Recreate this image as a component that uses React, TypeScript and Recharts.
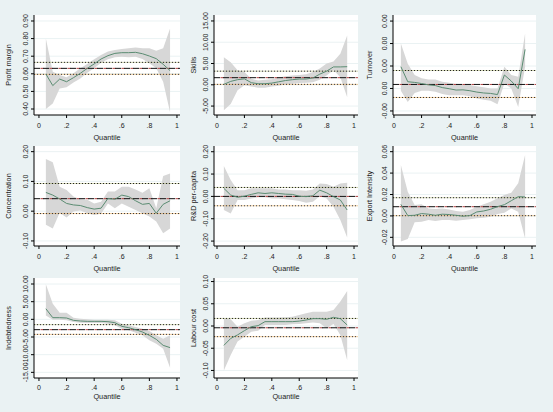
import { ComposedChart, Area, Line, XAxis, YAxis, CartesianGrid, ReferenceLine } from 'recharts';

// quantiles at which the regressions were estimated
const quantiles = [0.05, 0.1, 0.15, 0.2, 0.25, 0.3, 0.35, 0.4, 0.45, 0.5, 0.55, 0.6, 0.65, 0.7, 0.75, 0.8, 0.85, 0.9, 0.95];
const xTicks = [0, 0.2, 0.4, 0.6, 0.8, 1];

// Profit margin
const profitCoef = [0.599, 0.533, 0.57, 0.555, 0.578, 0.603, 0.631, 0.656, 0.684, 0.703, 0.716, 0.72, 0.72, 0.722, 0.714, 0.701, 0.686, 0.654, 0.618];
const profitLo = [0.4, 0.432, 0.517, 0.523, 0.55, 0.574, 0.606, 0.631, 0.663, 0.682, 0.694, 0.697, 0.694, 0.697, 0.684, 0.66, 0.631, 0.555, 0.381];
const profitHi = [0.8, 0.612, 0.593, 0.58, 0.603, 0.631, 0.656, 0.682, 0.707, 0.726, 0.735, 0.741, 0.745, 0.749, 0.745, 0.745, 0.731, 0.745, 0.858];
const profitOls = [0.631, 0.597, 0.665];
const profitTicks = [0.4, 0.5, 0.6, 0.7, 0.8, 0.9];

// Skills
const skillsCoef = [0.1, 0.8, 1.2, 1.4, 0.5, 0.25, 0.25, 0.4, 0.7, 1.0, 1.2, 1.35, 1.35, 1.6, 2.5, 3.2, 4.2, 4.2, 4.25];
const skillsLo = [-6.0, -4.5, -1.3, -0.1, -0.4, -0.7, -0.7, -0.4, -0.2, 0.1, 0.25, 0.4, 0.5, 0.6, 1.2, 2.2, 3.5, 1.8, -2.9];
const skillsHi = [6.5, 5.3, 3.4, 3.0, 1.4, 1.0, 1.2, 1.3, 1.7, 2.0, 2.2, 2.3, 2.5, 3.0, 3.8, 5.0, 5.5, 7.3, 11.6];
const skillsOls = [1.67, 0.1, 3.2];
const skillsTicks = [-5, 0, 5, 10, 15];

// Turnover
const turnCoef = [0.00097, 0.0003, 0.00027, 0.00022, 0.00016, 0.00013, 0.00004, -0.00001, -0.00007, -0.00006, -0.0001, -0.00016, -0.0002, -0.00022, -0.00027, 0.0006, 0.00033, -0.00001, 0.00174];
const turnLo = [-0.0001, -0.0006, -0.0002, -0.0001, -0.0001, -0.00015, -0.00025, -0.0003, -0.0003, -0.0003, -0.00035, -0.00045, -0.0005, -0.00055, -0.0007, 0.00022, 0.0, -0.00082, 0.00097];
const turnHi = [0.002, 0.0011, 0.0006, 0.00045, 0.0004, 0.0004, 0.0003, 0.00025, 0.0002, 0.0002, 0.00015, 0.0001, 0.00005, 0.0, 0.0, 0.00097, 0.0006, 0.00052, 0.00245];
const turnOls = [0.00018, -0.0004, 0.0008];
const turnTicks = [-0.001, 0, 0.001, 0.002, 0.003];

// Concentration
const concCoef = [0.063, 0.054, 0.041, 0.026, 0.021, 0.019, 0.012, 0.007, 0.01, 0.043, 0.04, 0.054, 0.049, 0.035, 0.023, 0.026, -0.007, 0.023, 0.035];
const concLo = [-0.046, -0.058, -0.005, -0.021, -0.001, 0.002, -0.007, -0.013, -0.009, 0.026, 0.01, 0.026, 0.015, 0.004, -0.007, -0.018, -0.035, -0.074, -0.058];
const concHi = [0.175, 0.164, 0.082, 0.071, 0.049, 0.04, 0.038, 0.026, 0.032, 0.066, 0.066, 0.082, 0.082, 0.073, 0.062, 0.077, 0.01, 0.118, 0.127];
const concOls = [0.042, -0.008, 0.093];
const concTicks = [-0.1, 0, 0.1, 0.2];

// R&D per-capita
const rdCoef = [0.036, 0.006, -0.004, 0.001, 0.009, 0.016, 0.013, 0.016, 0.013, 0.01, 0.009, 0.001, -0.001, 0.003, 0.028, 0.016, -0.001, -0.016, -0.061];
const rdLo = [-0.061, -0.076, -0.016, -0.016, -0.009, -0.004, -0.004, -0.009, -0.009, -0.013, -0.016, -0.021, -0.028, -0.024, 0.001, -0.009, -0.046, -0.106, -0.184];
const rdHi = [0.136, 0.073, 0.028, 0.028, 0.036, 0.036, 0.036, 0.036, 0.031, 0.031, 0.028, 0.028, 0.025, 0.031, 0.058, 0.055, 0.043, 0.058, 0.061];
const rdOls = [0.0, -0.042, 0.04];
const rdTicks = [-0.2, -0.1, 0, 0.1, 0.2];

// Export Intensity
const expCoef = [0.0108, 0.0003, 0.0006, 0.0022, 0.0016, 0.0006, 0.0016, 0.0013, 0.0006, -0.0003, 0.0003, 0.0037, 0.0046, 0.0062, 0.0087, 0.0105, 0.0142, 0.018, 0.0177];
const expLo = [-0.024, -0.0216, -0.006, -0.0054, -0.0038, -0.0048, -0.0038, -0.0038, -0.0044, -0.0038, -0.0032, -0.0022, -0.0016, -0.0007, 0.0018, 0.003, 0.007, 0.004, -0.021];
const expHi = [0.0475, 0.0226, 0.0102, 0.0108, 0.007, 0.0064, 0.007, 0.006, 0.0046, 0.004, 0.0055, 0.0086, 0.0108, 0.0133, 0.0164, 0.0195, 0.0217, 0.0304, 0.0569];
const expOls = [0.0086, 0.0002, 0.017];
const expTicks = [-0.02, 0, 0.02, 0.04, 0.06];

// Indebtedness
const debtCoef = [3.0, 0.47, 0.47, 0.38, -0.28, -0.47, -0.57, -0.57, -0.57, -0.66, -0.94, -1.98, -2.36, -2.92, -3.58, -4.53, -5.66, -7.36, -8.0];
const debtLo = [1.1, -0.1, -0.1, -0.28, -0.75, -0.94, -1.04, -1.04, -1.04, -1.23, -1.7, -2.64, -3.1, -3.77, -4.53, -5.94, -6.9, -8.3, -13.7];
const debtHi = [9.9, 4.4, 1.9, 1.9, 0.47, 0.2, 0.0, -0.1, -0.1, -0.1, -0.28, -1.23, -1.7, -2.17, -2.64, -3.3, -4.53, -5.5, -4.53];
const debtOls = [-2.92, -4.25, -1.5];
const debtTicks = [-15, -10, -5, 0, 5, 10];

// Labour cost
const labCoef = [-0.0436, -0.028, -0.02, -0.0105, -0.0015, 0.0008, 0.0098, 0.0098, 0.0098, 0.0098, 0.0098, 0.011, 0.0135, 0.0165, 0.0165, 0.015, 0.0195, 0.0165, 0.0023];
const labLo = [-0.1, -0.065, -0.035, -0.024, -0.0128, -0.0105, 0.0023, 0.0023, 0.0023, 0.0023, 0.0038, 0.0045, 0.006, 0.008, 0.006, -0.005, 0.0045, -0.02, -0.077];
const labHi = [0.017, 0.015, -0.0015, 0.006, 0.012, 0.0135, 0.019, 0.019, 0.019, 0.0195, 0.021, 0.025, 0.0286, 0.032, 0.032, 0.032, 0.036, 0.055, 0.079];
const labOls = [-0.004, -0.024, 0.017];
const labTicks = [-0.1, -0.05, 0, 0.05, 0.1];

const BG = '#eaf2f3';
const GREY = '#d7d7d7';
const GREEN = '#5b8c72';
const TEXT = '#222';
const PLOT_H = 100;

const COLS = [
  { left: 34, width: 146, domain: [-0.036, 1.022], titleDx: -25.7 },
  { left: 214, width: 144, domain: [-0.022, 1.029], titleDx: -21 },
  { left: 393, width: 143, domain: [-0.007, 1.029], titleDx: -24 },
];
const ROWS = [
  { top: 15, tickMargin: 5, titleDy: 24.5 },
  { top: 146, tickMargin: 5, titleDy: 24.5 },
  { top: 278, tickMargin: 4, titleDy: 20.5 },
];

const fmtX = (v: number) => (v === 0 ? '0' : v === 1 ? '1' : String(v).replace(/^0/, ''));
const fmtY = (v: number) => v.toFixed(2);

function YTick({ x, y, payload }: any) {
  return (
    <text x={x} y={y} transform={`rotate(-90 ${x} ${y})`} textAnchor="middle" fontSize={7} fill={TEXT}>
      {fmtY(payload.value)}
    </text>
  );
}

// axis titles are placed at fixed chart coordinates (px, py)
function FixedText({ px, py, text, rotate }: any) {
  return (
    <text x={px} y={py} transform={rotate ? `rotate(-90 ${px} ${py})` : undefined} textAnchor="middle" fontSize={7.3} fill={TEXT}>
      {text}
    </text>
  );
}

interface PanelProps {
  row: number;
  col: number;
  title: string;
  coef: number[];
  lo: number[];
  hi: number[];
  ols: number[];
  ticks: number[];
  yDomain: number[];
}

function Panel({ row, col, title, coef, lo, hi, ols, ticks, yDomain }: PanelProps) {
  const c = COLS[col];
  const r = ROWS[row];
  const data = quantiles.map((q, i) => ({ q, coef: coef[i], ci: [lo[i], hi[i]] }));
  const axisW = 34;
  const top = 5;
  return (
    <div style={{ position: 'absolute', left: c.left - axisW, top: r.top - top }}>
      <ComposedChart width={axisW + c.width + 5} height={top + PLOT_H + 30} data={data} margin={{ top, right: 5, left: 0, bottom: 0 }}>
        <CartesianGrid horizontal vertical={false} stroke={BG} fill="#ffffff" horizontalValues={ticks} />
        <XAxis
          type="number"
          dataKey="q"
          domain={c.domain}
          ticks={xTicks}
          interval={0}
          allowDataOverflow
          tickFormatter={fmtX}
          height={30}
          tickSize={3}
          tickMargin={r.tickMargin}
          tick={{ fontSize: 7, fill: TEXT }}
          axisLine={{ stroke: '#000' }}
          tickLine={{ stroke: '#000' }}
          label={<FixedText px={axisW + c.width / 2} py={top + PLOT_H + r.titleDy} text="Quantile" />}
        />
        <YAxis
          type="number"
          domain={yDomain}
          ticks={ticks}
          interval={0}
          allowDataOverflow
          width={axisW}
          tickSize={3}
          tickMargin={3}
          tick={<YTick />}
          axisLine={{ stroke: '#000' }}
          tickLine={{ stroke: '#000' }}
          label={<FixedText px={axisW + c.titleDx + 2.5} py={top + PLOT_H / 2} text={title} rotate />}
        />
        <Area type="linear" dataKey="ci" stroke="none" fill={GREY} fillOpacity={1} isAnimationActive={false} />
        <ReferenceLine y={ols[2]} stroke="#9aa25a" strokeWidth={1} strokeDasharray="1 2" strokeDashoffset={1.5} />
        <ReferenceLine y={ols[2]} stroke="#222" strokeWidth={1} strokeDasharray="1 2" />
        <ReferenceLine y={ols[1]} stroke="#e39a3a" strokeWidth={1} strokeDasharray="1 2" strokeDashoffset={1.5} />
        <ReferenceLine y={ols[1]} stroke="#333" strokeWidth={1} strokeDasharray="1 2" />
        <ReferenceLine y={ols[0]} stroke="#b04040" strokeWidth={1} strokeDasharray="3 6" strokeDashoffset={-6.5} />
        <ReferenceLine y={ols[0]} stroke="#111" strokeWidth={1} strokeDasharray="6 3" />
        <Line type="linear" dataKey="coef" stroke={GREEN} strokeWidth={1} dot={false} isAnimationActive={false} />
      </ComposedChart>
    </div>
  );
}

export default function App() {
  return (
    <div
      style={{
        position: 'absolute',
        left: 0,
        top: 0,
        width: 553,
        height: 412,
        background: BG,
        fontFamily: '"Liberation Sans", Arial, sans-serif',
        overflow: 'hidden',
      }}
    >
      <Panel row={0} col={0} title="Profit margin" coef={profitCoef} lo={profitLo} hi={profitHi} ols={profitOls} ticks={profitTicks} yDomain={[0.366, 0.934]} />
      <Panel row={0} col={1} title="Skills" coef={skillsCoef} lo={skillsLo} hi={skillsHi} ols={skillsOls} ticks={skillsTicks} yDomain={[-7.1, 16.4]} />
      <Panel row={0} col={2} title="Turnover" coef={turnCoef} lo={turnLo} hi={turnHi} ols={turnOls} ticks={turnTicks} yDomain={[-0.00118, 0.00327]} />
      <Panel row={1} col={0} title="Concentration" coef={concCoef} lo={concLo} hi={concHi} ols={concOls} ticks={concTicks} yDomain={[-0.117, 0.219]} />
      <Panel row={1} col={1} title="R&D per-capita" coef={rdCoef} lo={rdLo} hi={rdHi} ols={rdOls} ticks={rdTicks} yDomain={[-0.222, 0.2256]} />
      <Panel row={1} col={2} title="Export Intensity" coef={expCoef} lo={expLo} hi={expHi} ols={expOls} ticks={expTicks} yDomain={[-0.0281, 0.0653]} />
      <Panel row={2} col={0} title="Indebtedness" coef={debtCoef} lo={debtLo} hi={debtHi} ols={debtOls} ticks={debtTicks} yDomain={[-16.6, 11.7]} />
      <Panel row={2} col={1} title="Labour cost" coef={labCoef} lo={labLo} hi={labHi} ols={labOls} ticks={labTicks} yDomain={[-0.117, 0.108]} />
    </div>
  );
}
